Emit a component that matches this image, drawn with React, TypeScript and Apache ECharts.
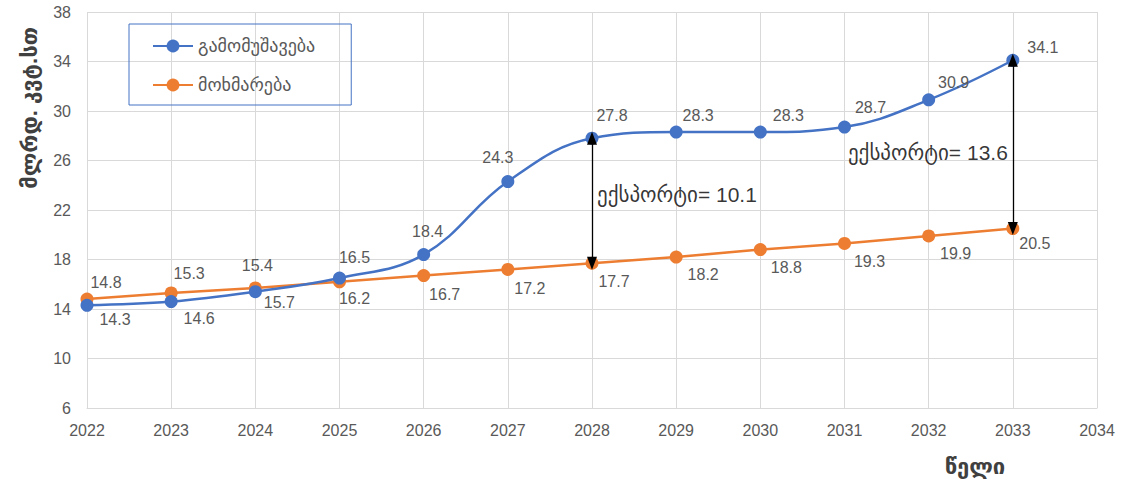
import { useEffect, useRef } from "react";
import * as echarts from "echarts";

// Years on the horizontal axis and the two annual series (billion kWh)
const years = [2022, 2023, 2024, 2025, 2026, 2027, 2028, 2029, 2030, 2031, 2032, 2033];
const generation = [14.3, 14.6, 15.4, 16.5, 18.4, 24.3, 27.8, 28.3, 28.3, 28.7, 30.9, 34.1];
const consumption = [14.8, 15.3, 15.7, 16.2, 16.7, 17.2, 17.7, 18.2, 18.8, 19.3, 19.9, 20.5];

// Axis ticks
const yTicks = [6, 10, 14, 18, 22, 26, 30, 34, 38];
const xMin = 2022;
const xMax = 2034;

// Years where the export gap is annotated
const exportYears = [2028, 2033];

// Series names and axis titles
const genName = "გამომუშავება";
const consName = "მოხმარება";
const yTitle = "მლრდ. კვტ.სთ";
const xTitle = "წელი";
const exportLabel = "ექსპორტი= ";

// Label offsets (pixels) relative to each marker
const genLabelOffsets = [
  [28, 14], [28, 17], [2, -26], [15, -21], [4, -23], [-10, -24],
  [20, -23], [22, -17], [28, -17], [26, -20], [25, -17], [30, -13],
];
const consLabelOffsets = [
  [19, -17], [18, -19], [24, 15], [15, 17], [21, 19], [22, 19],
  [22, 18], [27, 17], [26, 18], [25, 18], [27, 18], [22, 15],
];

const BLUE = "#4472C4";
const ORANGE = "#ED7D31";
const GREY_TEXT = "#595959";
const GRID = "#d9d9d9";
const FONT = "'Liberation Sans', 'DejaVu Sans', sans-serif";

function seriesData(values: number[], offsets: number[][]) {
  return values.map((v, i) => ({
    value: [years[i], v],
    label: { offset: offsets[i] },
  }));
}

export default function App() {
  const ref = useRef<HTMLDivElement>(null);

  useEffect(() => {
    document.body.style.margin = "0";
    if (!ref.current) return;
    const chart = echarts.init(ref.current, null, { renderer: "svg" });

    const gaps = exportYears.map((yr) => {
      const i = years.indexOf(yr);
      return { year: yr, top: generation[i], bottom: consumption[i] };
    });

    const dataLabel = {
      show: true,
      position: "inside",
      align: "center",
      verticalAlign: "middle",
      color: GREY_TEXT,
      fontSize: 16,
      fontFamily: FONT,
      formatter: (p: any) => p.value[1].toFixed(1),
    };

    chart.setOption({
      animation: false,
      backgroundColor: "#ffffff",
      textStyle: { fontFamily: FONT },
      grid: { left: 87, right: 24, top: 12, bottom: 73 },
      legend: {
        data: [genName, consName],
        orient: "vertical",
        left: 129,
        top: 24,
        padding: [13, 36, 11, 23],
        itemGap: 21,
        itemWidth: 40,
        itemHeight: 16,
        borderColor: BLUE,
        borderWidth: 1,
        textStyle: { color: GREY_TEXT, fontSize: 18, fontFamily: FONT },
      },
      xAxis: {
        type: "value",
        min: xMin,
        max: xMax,
        interval: 1,
        axisLine: { show: true, lineStyle: { color: GRID } },
        axisTick: { show: false },
        splitLine: { show: true, lineStyle: { color: GRID } },
        axisLabel: {
          color: GREY_TEXT,
          fontSize: 16,
          margin: 14,
          fontFamily: FONT,
          formatter: (v: number) => String(v),
        },
      },
      yAxis: {
        type: "value",
        min: yTicks[0],
        max: yTicks[yTicks.length - 1],
        axisLine: { show: false },
        axisTick: { show: false, customValues: yTicks },
        splitLine: { show: true, lineStyle: { color: GRID } },
        axisLabel: {
          color: GREY_TEXT,
          fontSize: 16,
          margin: 16,
          fontFamily: FONT,
          customValues: yTicks,
        },
      },
      graphic: [
        {
          type: "text",
          x: 29,
          y: 108,
          rotation: Math.PI / 2,
          style: {
            text: yTitle,
            fill: "#404040",
            font: `bold 22px ${FONT}`,
            textAlign: "center",
            textVerticalAlign: "middle",
          },
        },
        {
          type: "text",
          x: 975,
          y: 466,
          style: {
            text: xTitle,
            fill: "#404040",
            font: `bold 22px ${FONT}`,
            textAlign: "center",
            textVerticalAlign: "middle",
          },
        },
      ],
      series: [
        {
          name: genName,
          type: "line",
          smooth: 0.4,
          symbol: "circle",
          symbolSize: 13,
          z: 3,
          color: BLUE,
          lineStyle: { width: 2.5, color: BLUE },
          itemStyle: { color: BLUE },
          label: dataLabel,
          data: seriesData(generation, genLabelOffsets),
          markLine: {
            silent: true,
            symbol: ["triangle", "triangle"],
            symbolSize: [10, 13],
            label: { show: false },
            lineStyle: { color: "#000000", width: 1.3, type: "solid" },
            data: gaps.map((g) => [
              { coord: [g.year, g.top] },
              { coord: [g.year, g.bottom] },
            ]),
          },
        },
        {
          name: consName,
          type: "line",
          smooth: false,
          symbol: "circle",
          symbolSize: 13,
          z: 2,
          color: ORANGE,
          lineStyle: { width: 2.5, color: ORANGE },
          itemStyle: { color: ORANGE },
          label: dataLabel,
          data: seriesData(consumption, consLabelOffsets),
        },
        {
          name: "export",
          type: "scatter",
          symbolSize: 0,
          silent: true,
          z: 4,
          data: gaps.map((g, i) => ({
            value: [g.year, (g.top + g.bottom) / 2],
            label: {
              position: i === 0 ? "right" : "left",
              distance: 5,
              offset: i === 0 ? [0, -6] : [0, 8],
            },
          })),
          label: {
            show: true,
            color: "#000000",
            fontSize: 21,
            fontFamily: FONT,
            formatter: (p: any) => {
              const g = gaps[p.dataIndex];
              return exportLabel + (g.top - g.bottom).toFixed(1);
            },
          },
        },
      ],
    });

    return () => chart.dispose();
  }, []);

  return <div ref={ref} style={{ width: 1121, height: 481 }} />;
}
